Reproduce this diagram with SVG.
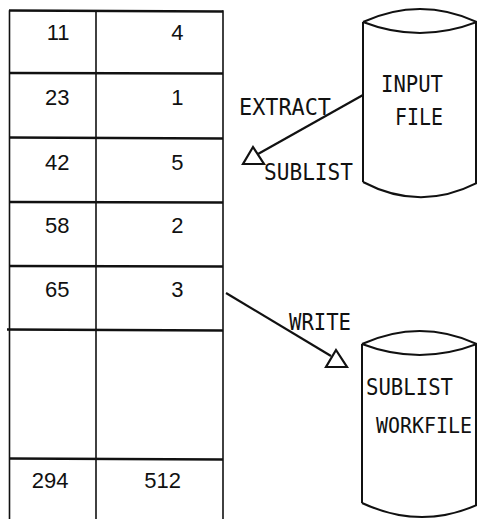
<svg xmlns="http://www.w3.org/2000/svg" width="477" height="519" viewBox="0 0 477 519">
<style>
.bg{fill:#ffffff}
.ln{stroke:#111;stroke-width:1.6;fill:none;stroke-linecap:square}
.hl{stroke:#111;stroke-width:2.4;fill:none}
.cyl{stroke:#111;stroke-width:2;fill:none}
.arr{stroke:#111;stroke-width:2.2;fill:none}
.tri{stroke:#111;stroke-width:2.2;fill:#fff;stroke-linejoin:miter}
.num{font-family:"Liberation Sans",Arial,sans-serif;font-size:22px;fill:#111;text-anchor:end}
.lbl{font-family:"DejaVu Sans Mono","Liberation Mono",monospace;font-size:23px;fill:#111}
</style>
<defs>
<polygon id="tri" points="0,-9 -10,8 11,8"/>
</defs>
<rect class="bg" x="0" y="0" width="477" height="519"/>
<g id="table">
<line class="ln" x1="9.5" y1="11" x2="9.5" y2="519"/>
<line class="ln" x1="96" y1="11" x2="96" y2="519"/>
<line class="ln" x1="223" y1="11" x2="223" y2="519"/>
<line class="hl" x1="9" y1="10.5" x2="223" y2="11.5"/>
<line class="hl" x1="9" y1="73" x2="223" y2="73.5"/>
<line class="hl" x1="9" y1="137.5" x2="223" y2="138.5"/>
<line class="hl" x1="9" y1="202" x2="223" y2="202.5"/>
<line class="hl" x1="9" y1="266" x2="223" y2="266.5"/>
<line class="hl" x1="7" y1="329.5" x2="223" y2="330.5"/>
<line class="hl" x1="9" y1="458.5" x2="223" y2="459.5"/>
<text class="num" x="69.5" y="40">11</text>
<text class="num" x="183.5" y="40">4</text>
<text class="num" x="69.5" y="105">23</text>
<text class="num" x="183.5" y="105">1</text>
<text class="num" x="69.5" y="170">42</text>
<text class="num" x="183.5" y="170">5</text>
<text class="num" x="69.5" y="233">58</text>
<text class="num" x="183.5" y="233">2</text>
<text class="num" x="69.5" y="297">65</text>
<text class="num" x="183.5" y="297">3</text>
<text class="num" x="68.5" y="488">294</text>
<text class="num" x="181" y="488">512</text>
</g>
<g id="input-file">
<path class="cyl" d="M363,22 Q420,-4 477,22 M363,22 Q420,44 477,22 M363,22 V182 M476,22 V183 M363,182 Q420,212 477,183"/>
<text class="lbl" x="381" y="92" textLength="62" lengthAdjust="spacingAndGlyphs">INPUT</text>
<text class="lbl" x="395" y="125" textLength="48" lengthAdjust="spacingAndGlyphs">FILE</text>
</g>
<g id="sublist-workfile">
<path class="cyl" d="M362,344 Q420,318 477,344 M362,344 Q420,366 477,344 M362,344 V503 M476,344 V505 M362,503 Q420,530 477,505"/>
<text class="lbl" x="366" y="395" textLength="87" lengthAdjust="spacingAndGlyphs">SUBLIST</text>
<text class="lbl" x="376" y="433" style="font-size:21px" textLength="96" lengthAdjust="spacingAndGlyphs">WORKFILE</text>
</g>
<g id="connectors">
<line class="arr" x1="363" y1="95" x2="258" y2="154"/>
<use href="#tri" class="tri" x="253" y="156"/>
<text class="lbl" x="239" y="115" textLength="92" lengthAdjust="spacingAndGlyphs">EXTRACT</text>
<text class="lbl" x="264" y="180" textLength="89" lengthAdjust="spacingAndGlyphs">SUBLIST</text>
<line class="arr" x1="226" y1="293" x2="331" y2="356"/>
<use href="#tri" class="tri" x="336" y="359"/>
<text class="lbl" x="289" y="330" textLength="62" lengthAdjust="spacingAndGlyphs">WRITE</text>
</g>
</svg>
